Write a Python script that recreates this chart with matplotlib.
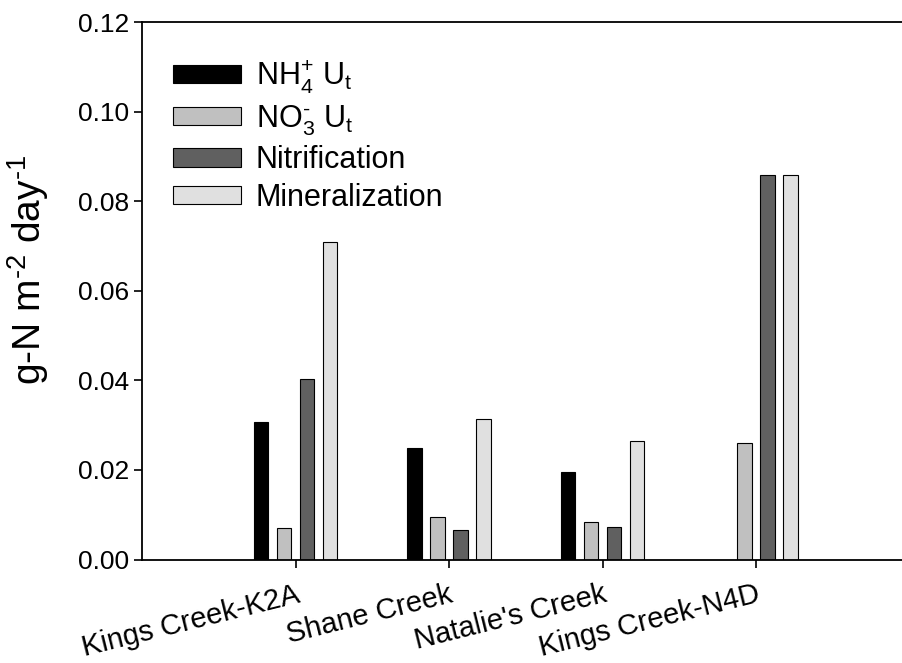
import numpy as np
import matplotlib
matplotlib.use("Agg")
import matplotlib.pyplot as plt
from matplotlib.ticker import FormatStrFormatter

plt.rcParams['font.family'] = ['Liberation Sans', 'DejaVu Sans']
plt.rcParams['mathtext.fontset'] = 'custom'
plt.rcParams['mathtext.rm'] = 'Liberation Sans'
plt.rcParams['mathtext.it'] = 'Liberation Sans:italic'
plt.rcParams['mathtext.bf'] = 'Liberation Sans:bold'

sites = ["Kings Creek-K2A", "Shane Creek", "Natalie's Creek", "Kings Creek-N4D"]
nh4_ut = [0.0307, 0.0250, 0.0196, np.nan]
no3_ut = [0.0070, 0.0095, 0.0083, 0.0259]
nitrification = [0.0403, 0.0066, 0.0072, 0.0858]
mineralization = [0.0708, 0.0314, 0.0265, 0.0858]

series = [
    (r'NH$_{4}^{+}$ U$_{\mathrm{t}}$', nh4_ut, '#000000'),
    (r'NO$_{3}^{\text{-}}$ U$_{\mathrm{t}}$', no3_ut, '#c0c0c0'),
    ('Nitrification', nitrification, '#606060'),
    ('Mineralization', mineralization, '#e0e0e0'),
]

fig = plt.figure(figsize=(9.03, 6.63), dpi=100)
ax = fig.add_axes([142/903, (663-559.5)/663, 767.5/903, (559.5-22)/663])

x = np.arange(len(sites))
pitch = 0.15
width = 0.093
for i, (lab, vals, col) in enumerate(series):
    ax.bar(x + (i - 1.5) * pitch, vals, width, color=col, edgecolor='black',
           linewidth=0.8, label=lab)

ax.set_xlim(-1, 4)
ax.set_ylim(0, 0.12)
ax.set_yticks(np.arange(0, 0.121, 0.02))
ax.yaxis.set_major_formatter(FormatStrFormatter('%.2f'))
ax.set_xticks(x)
ax.set_xticklabels(sites, rotation=14, ha='right', rotation_mode='anchor', fontsize=21)
ax.tick_params(axis='y', labelsize=19, direction='out', length=6, width=1.2)
ax.tick_params(axis='x', direction='out', length=6, width=1.2, pad=9)
ax.spines['right'].set_visible(False)
for s in ['left', 'bottom', 'top']:
    ax.spines[s].set_linewidth(1.3)

ax.set_ylabel(r'g-N m$^{\text{-}2}$ day$^{\text{-}1}$', fontsize=28, va='center')
ax.yaxis.set_label_coords((28 - 142) / 767.5, (559.5 - 270) / 537.5)

ax.legend(loc='upper left', bbox_to_anchor=(0.025, 0.955), frameon=False,
          fontsize=22, handlelength=2.2, handleheight=0.55, handletextpad=0.5,
          labelspacing=0.25, borderaxespad=0)

fig.savefig('out.png', dpi=100)
